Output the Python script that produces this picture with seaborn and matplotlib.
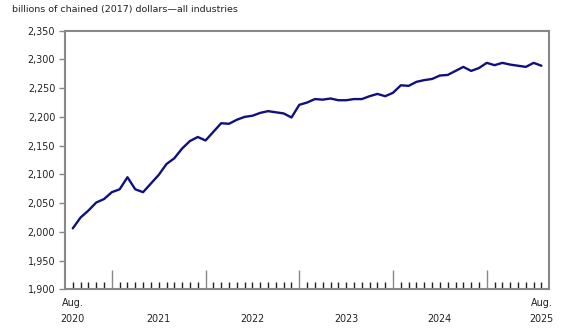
import matplotlib
matplotlib.use("Agg")
import matplotlib.pyplot as plt
import matplotlib.transforms as mtransforms
import seaborn as sns
import pandas as pd
import numpy as np

# ---- data (monthly, Aug 2020 to Aug 2025) ----
months = pd.date_range("2020-08-01", "2025-08-01", freq="MS")
gdp = [2006, 2025, 2037, 2051, 2057, 2069, 2074, 2095, 2074, 2069,
       2084, 2099, 2118, 2128, 2145, 2158, 2165, 2159, 2174, 2189,
       2188, 2195, 2200, 2202, 2207, 2210, 2208, 2206, 2199, 2221,
       2225, 2231, 2230, 2232, 2229, 2229, 2231, 2231, 2236, 2240,
       2236, 2242, 2255, 2254, 2261, 2264, 2266, 2272, 2273, 2280,
       2287, 2280, 2285, 2294, 2290, 2294, 2291, 2289, 2287, 2294,
       2289]
year_labels = ["Aug.\n2020", "2021", "2022", "2023", "2024", "Aug.\n2025"]
y_ticks = [1900, 1950, 2000, 2050, 2100, 2150, 2200, 2250, 2300, 2350]
title = "billions of chained (2017) dollars\u2014all industries"

df = pd.DataFrame({"idx": np.arange(len(months)), "date": months, "gdp": gdp})

sns.set_theme(style="white")
plt.rcParams["font.family"] = ["DejaVu Sans"]

fig = plt.figure(figsize=(5.8, 3.35), dpi=100)
ax = fig.add_axes([0.112, 0.1364, 0.8350, 0.7720])

sns.lineplot(data=df, x="idx", y="gdp", ax=ax, color="#10107f", linewidth=1.7)

ax.set_xlim(-1, len(months))
ax.set_ylim(y_ticks[0], y_ticks[-1])
ax.set_yticks(y_ticks)
ax.set_yticklabels([f"{v:,}" for v in y_ticks], fontsize=6.9, color="#222222")
ax.tick_params(axis="y", direction="out", length=4, width=1, color="#888888", pad=3, left=True)

jan_idx = df.index[df["date"].dt.month == 1].tolist()
ax.set_xticks(jan_idx)
ax.set_xticks(df["idx"].tolist(), minor=True)
ax.tick_params(axis="x", which="major", direction="in", length=14, width=1, color="#888888", labelbottom=False, bottom=True)
ax.tick_params(axis="x", which="minor", direction="in", length=5, width=1, color="#222222", bottom=True)

for s in ax.spines.values():
    s.set_color("#888888")
    s.set_linewidth(1.5)

ax.set_xlabel("")
ax.set_ylabel("")

# year label positions: first point, mid-points between Januaries, last point
label_pos = [0] + [(jan_idx[i] + jan_idx[i + 1]) / 2 for i in range(len(jan_idx) - 1)] + [len(months) - 1]
trans = mtransforms.blended_transform_factory(ax.transData, fig.transFigure)
for pos, lab in zip(label_pos, year_labels):
    ax.text(pos, 0.039, lab, transform=trans, ha="center", va="baseline",
            fontsize=6.9, color="#222222", linespacing=1.75)

fig.text(12 / 580, 1 - 9.5 / 335, title, ha="left", va="center", fontsize=6.8, color="#222222")

fig.savefig("out.png", dpi=100)
